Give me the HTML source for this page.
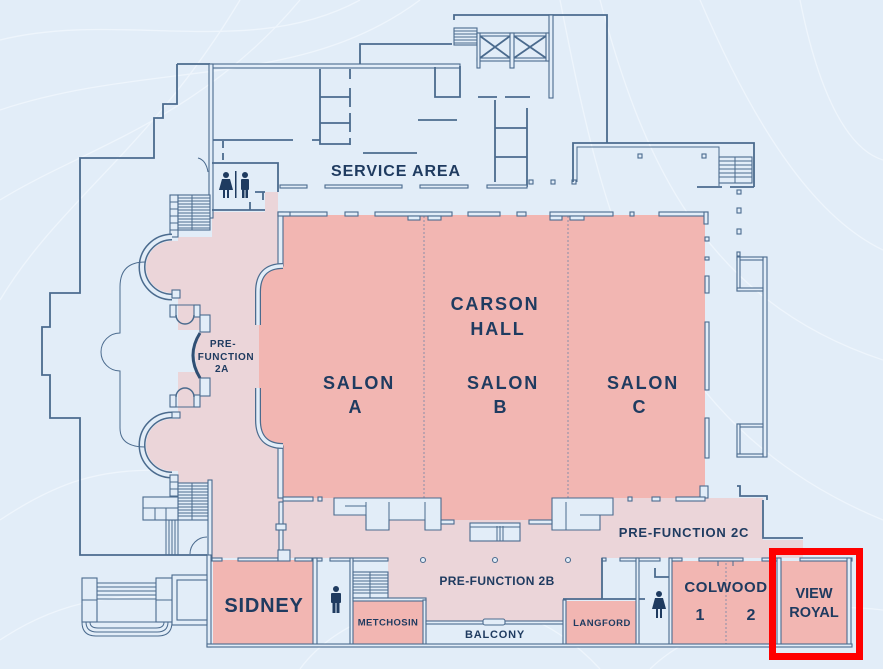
<!DOCTYPE html>
<html><head><meta charset="utf-8">
<style>
html,body{margin:0;padding:0;background:#e2edf8;}
svg{display:block}
text{font-family:"Liberation Sans",sans-serif;font-weight:bold;fill:#1f3b60;}
.w{fill:#e2edf8;stroke:#4b6b8e;stroke-width:1.1}
.l{fill:none;stroke:#4b6b8e;stroke-width:1.8}
.t{fill:none;stroke:#4b6b8e;stroke-width:1}
.ic{fill:#1f3b60}
</style></head><body>
<svg width="883" height="669" viewBox="0 0 883 669" xmlns="http://www.w3.org/2000/svg">
<rect width="883" height="669" fill="#e2edf8"/>
<g fill="none" stroke="#eef5fc" stroke-width="1.3">
<path d="M0,40 C120,10 250,60 360,0"/>
<path d="M0,110 C150,60 300,90 420,0"/>
<path d="M0,300 C60,200 150,150 240,0"/>
<path d="M0,200 C80,150 200,120 300,0"/>
<path d="M600,0 C640,150 700,300 883,360"/>
<path d="M700,0 C760,140 820,220 883,250"/>
<path d="M560,0 C600,200 640,420 883,520"/>
<path d="M800,0 C820,100 850,150 883,160"/>
<path d="M300,669 C350,600 500,560 600,669"/>
<path d="M0,520 C60,480 100,470 160,470"/>
<path d="M0,640 C60,600 120,590 200,600"/>
<path d="M650,669 C700,620 800,600 883,610"/>
</g>

<!-- light pink prefunction -->
<g fill="#ebd5d9">
<rect x="212" y="212" width="71" height="346"/>
<rect x="265" y="192" width="13" height="20"/>
<rect x="178" y="237" width="34" height="93"/>
<rect x="178" y="372" width="34" height="111"/>
<path d="M200,330 Q190,352 200,378 L212,378 L212,330 Z"/>
<path d="M172,241 A26,26 0 0 0 172,293 L180,293 L180,241 Z"/>
<path d="M172,419 A26,26 0 0 0 172,471 L180,471 L180,419 Z"/>
<rect x="283" y="498" width="480" height="60"/>
<rect x="763" y="540" width="40" height="18"/>
<rect x="388" y="558" width="214" height="42"/>
<rect x="423" y="600" width="142" height="23"/>
</g>

<!-- salon pink -->
<g fill="#f2b6b2">
<path d="M283,215 L705,215 L705,498 L552,498 L552,520 L441,520 L441,498 L283,498 L283,446 Q259,446 259,420 L259,292 Q259,266 283,266 Z"/>
<rect x="213" y="560" width="101" height="84"/>
<rect x="353" y="601" width="70" height="43"/>
<rect x="565" y="601" width="72" height="43"/>
<rect x="672" y="561" width="98" height="83"/>
<rect x="779" y="561" width="70" height="83"/>
</g>
<g fill="none" stroke="#8a8fa8" stroke-width="1" stroke-dasharray="2,2">
<path d="M424,216 L424,498"/>
<path d="M568,216 L568,498"/>
<path d="M726,563 L726,644"/>
</g>

<!-- outer building lines -->
<path class="l" stroke-width="2.2" d="M177,64 L177,104 L163,104 L163,118 L154,118 L154,158 L80,158 L80,293 L50,293 L50,327 L42,327 L42,375 L50,375 L50,418 L80,418 L80,555 L207,555"/>
<path class="t" d="M198,158 Q206,160 208,172"/>
<path class="l" d="M177,64 L210,64"/>
<rect class="w" x="210" y="64" width="250" height="4"/>
<path class="l" d="M360,64 L360,44 L452,44"/>
<rect class="w" x="209" y="64" width="4" height="154"/>
<path class="l" d="M435,67 L435,97 L460,97 L460,66"/>
<path class="l" d="M454,20 L454,15 L607,15 L607,143"/>
<rect class="w" x="549" y="15" width="4" height="83"/>
<rect class="w" x="454" y="28" width="23" height="17"/>
<path class="t" d="M454,31 H477 M454,34 H477 M454,37 H477 M454,40 H477 M454,43 H477"/>
<rect class="w" x="477" y="33" width="72" height="3"/>
<rect class="w" x="477" y="58" width="72" height="3"/>
<rect class="w" x="477" y="33" width="3" height="35"/>
<rect class="w" x="510" y="33" width="4" height="35"/>
<rect class="w" x="546" y="33" width="3" height="28"/>
<path class="l" d="M480,36 L510,58 M480,58 L510,36 M514,36 L546,58 M514,58 L546,36"/>

<!-- service interior -->
<path class="l" d="M213,140 L293,140 M312,140 L320,140"/>
<path class="l" d="M320,69 L320,144 L350,144 M320,97 L350,97 M320,123 L350,123"/>
<path class="l" d="M350,69 L350,79 M350,88 L350,107 M350,113 L350,132 M350,138 L350,145"/>
<path class="l" d="M363,153 L417,153"/>
<path class="l" d="M418,120 L457,120"/>
<path class="l" d="M478,97 L497,97 M505,97 L530,97"/>
<path class="l" d="M495,100 L495,182 M495,128 L527,128 M495,157 L527,157 M527,108 L527,187"/>
<path class="l" d="M223,141 L223,148 M223,153 L223,160"/>
<path class="l" d="M212,163 L278,163 L278,192 M255,192 L265,192 M212,210 L265,210 M250,202 L250,210 M263,192 L263,200"/>
<rect class="w" x="280" y="185" width="27" height="3"/>
<rect class="w" x="325" y="185" width="77" height="3"/>
<rect class="w" x="420" y="185" width="48" height="3"/>
<rect class="w" x="487" y="185" width="40" height="3"/>
<rect class="w" x="529" y="180" width="4" height="4"/>
<rect class="w" x="551" y="180" width="4" height="4"/>
<rect class="w" x="572" y="180" width="4" height="4"/>
<path class="l" d="M573,182 L573,143 L754,143 L754,187"/>
<path class="t" d="M577,182 L577,147 L719,147 L719,186"/>
<rect class="w" x="638" y="154" width="4" height="4"/>
<rect class="w" x="702" y="154" width="4" height="4"/>
<rect class="w" x="719" y="157" width="33" height="26"/>
<path class="t" d="M719,161 H752 M719,165 H752 M719,169 H752 M719,173 H752 M719,177 H752 M735,157 V183"/>
<path class="l" d="M697,187 L722,187 M730,187 L754,187"/>
<rect class="w" x="737" y="190" width="4" height="4"/>
<rect class="w" x="737" y="208" width="4" height="5"/>
<rect class="w" x="737" y="229" width="4" height="5"/>

<!-- restroom icons top -->
<circle class="ic" cx="226" cy="175" r="3"/>
<path class="ic" d="M222,179 L230,179 L233,190 L219,190 Z"/>
<rect class="ic" x="223" y="190" width="2" height="8"/>
<rect class="ic" x="227" y="190" width="2" height="8"/>
<rect class="ic" x="235" y="171" width="1.5" height="27"/>
<circle class="ic" cx="245" cy="175" r="3"/>
<rect class="ic" x="241" y="179" width="8" height="11" rx="1"/>
<rect class="ic" x="242" y="190" width="2.5" height="8"/>
<rect class="ic" x="245.5" y="190" width="2.5" height="8"/>

<!-- hall top wall row -->
<rect class="w" x="278" y="212" width="49" height="4"/>
<rect class="w" x="345" y="212" width="13" height="4"/>
<rect class="w" x="375" y="212" width="77" height="4"/>
<rect class="w" x="468" y="212" width="32" height="4"/>
<rect class="w" x="517" y="212" width="9" height="4"/>
<rect class="w" x="550" y="212" width="63" height="4"/>
<rect class="w" x="630" y="212" width="4" height="4"/>
<rect class="w" x="659" y="212" width="49" height="4"/>
<rect class="w" x="408" y="216" width="12" height="4"/>
<rect class="w" x="428" y="216" width="13" height="4"/>
<rect class="w" x="550" y="216" width="12" height="4"/>
<rect class="w" x="570" y="216" width="14" height="4"/>
<rect class="w" x="704" y="212" width="4" height="12"/>
<rect class="w" x="278" y="212" width="5" height="54"/>
<rect class="w" x="278" y="212" width="12" height="4"/>
<rect class="w" x="278" y="446" width="5" height="52"/>
<path d="M283,266 Q258,266 258,292 L258,325" fill="none" stroke="#4b6b8e" stroke-width="6"/>
<path d="M283,266 Q258,266 258,292 L258,325" fill="none" stroke="#e2edf8" stroke-width="3.5"/>
<path d="M258,388 L258,420 Q258,446 283,446" fill="none" stroke="#4b6b8e" stroke-width="6"/>
<path d="M258,388 L258,420 Q258,446 283,446" fill="none" stroke="#e2edf8" stroke-width="3.5"/>

<!-- right of salon C -->
<rect class="w" x="705" y="237" width="4" height="4"/>
<rect class="w" x="705" y="257" width="4" height="3"/>
<rect class="w" x="705" y="276" width="4" height="17"/>
<rect class="w" x="705" y="322" width="4" height="68"/>
<rect class="w" x="705" y="418" width="4" height="40"/>
<rect class="w" x="763" y="257" width="4" height="200"/>
<rect class="w" x="737" y="257" width="26" height="3"/>
<rect class="w" x="737" y="257" width="3" height="34"/>
<rect class="w" x="737" y="288" width="26" height="3"/>
<rect class="w" x="737" y="424" width="26" height="3"/>
<rect class="w" x="737" y="424" width="3" height="33"/>
<rect class="w" x="737" y="454" width="26" height="3"/>
<rect class="w" x="737" y="252" width="3" height="4"/>
<path class="l" d="M737,486 L740,486 L740,496 L767,496 L767,500"/>
<rect class="w" x="700" y="486" width="8" height="12"/>

<!-- 2A left details -->
<rect class="w" x="170" y="195" width="8" height="42"/>
<path class="t" d="M170,202 H178 M170,209 H178 M170,216 H178 M170,223 H178 M170,230 H178"/>
<rect class="w" x="178" y="195" width="32" height="35"/>
<path class="t" d="M178,198 H210 M178,201 H210 M178,204 H210 M178,207 H210 M178,210 H210 M178,213 H210 M178,216 H210 M178,219 H210 M178,222 H210 M178,225 H210 M178,228 H210 M192,195 V230"/>
<path d="M172,237 A30,30 0 0 0 172,297" fill="none" stroke="#4b6b8e" stroke-width="7"/>
<path d="M172,237 A30,30 0 0 0 172,297" fill="none" stroke="#e2edf8" stroke-width="4"/>
<path d="M172,415 A30,30 0 0 0 172,475" fill="none" stroke="#4b6b8e" stroke-width="7"/>
<path d="M172,415 A30,30 0 0 0 172,475" fill="none" stroke="#e2edf8" stroke-width="4"/>
<rect class="w" x="172" y="290" width="8" height="8"/>
<rect class="w" x="172" y="412" width="8" height="6"/>
<rect class="w" x="170" y="305" width="6" height="12"/>
<rect class="w" x="194" y="305" width="6" height="12"/>
<path class="t" d="M170,305 H200"/>
<path d="M176,315 A9,9 0 0 0 194,315" fill="none" stroke="#4b6b8e" stroke-width="1.5"/>
<rect class="w" x="170" y="395" width="6" height="12"/>
<rect class="w" x="194" y="395" width="6" height="12"/>
<path class="t" d="M170,407 H200"/>
<path d="M176,397 A9,9 0 0 1 194,397" fill="none" stroke="#4b6b8e" stroke-width="1.5"/>
<rect class="w" x="200" y="315" width="10" height="17"/>
<rect class="w" x="200" y="378" width="10" height="18"/>
<path d="M200,333 Q186,355 200,378" fill="none" stroke="#2f4f74" stroke-width="3"/>
<path class="t" stroke-width="1.3" d="M145,262 Q120,262 120,287 L120,333 A19,19 0 0 0 120,371 L120,428 Q120,447 145,447"/>
<rect class="w" x="170" y="475" width="8" height="45"/>
<path class="t" d="M170,482 H178 M170,489 H178 M170,496 H178 M170,503 H178 M170,510 H178"/>
<rect class="w" x="178" y="483" width="32" height="37"/>
<path class="t" d="M178,486 H210 M178,489 H210 M178,492 H210 M178,495 H210 M178,498 H210 M178,501 H210 M178,504 H210 M178,507 H210 M178,510 H210 M178,513 H210 M178,516 H210 M192,483 V520"/>
<rect class="w" x="143" y="497" width="35" height="23"/>
<path class="t" d="M143,508 H178 M155,508 V520 M166,508 V520"/>
<path class="t" d="M166,520 V555 M169,520 V555 M172,520 V555 M175,520 V555 M178,520 V555"/>
<rect class="w" x="208" y="480" width="4" height="78"/>
<path class="t" stroke-width="1.5" d="M190,554 A17,17 0 0 1 207,537"/>

<!-- bottom-left stair area -->
<rect class="w" x="207" y="555" width="4" height="92"/>
<rect class="w" x="172" y="575" width="35" height="50"/>
<rect class="w" x="177" y="580" width="30" height="40"/>
<rect class="w" x="82" y="578" width="15" height="44"/>
<rect class="w" x="156" y="578" width="16" height="44"/>
<path class="t" d="M97,583 H156 M97,587 H156 M97,591 H156 M97,595 H156 M97,599 H156 M82,600 H97 M156,600 H172"/>
<path class="t" d="M82,622 Q82,636 96,636 L158,636 Q172,636 172,622 M86,622 Q86,632 97,632 L157,632 Q168,632 168,622 M90,622 Q90,628 98,628 L156,628 Q164,628 164,622 M82,622 H172"/>

<!-- under salons -->
<rect class="w" x="283" y="497" width="30" height="4"/>
<rect class="w" x="318" y="497" width="4" height="4"/>
<path class="w" d="M334,498 L441,498 L441,530 L425,530 L425,520 L389,520 L389,530 L366,530 L366,515 L334,515 Z"/>
<path class="t" d="M366,502 V515 M389,502 V520 M425,502 V520 M345,506 H366"/>
<path class="w" d="M552,498 L613,498 L613,515 L600,515 L600,530 L552,530 Z"/>
<path class="t" d="M566,502 V530 M580,515 H600"/>
<rect class="w" x="628" y="497" width="4" height="4"/>
<rect class="w" x="652" y="497" width="8" height="4"/>
<rect class="w" x="676" y="497" width="29" height="4"/>
<rect class="w" x="441" y="520" width="13" height="4"/>
<rect class="w" x="529" y="520" width="23" height="4"/>
<rect class="w" x="470" y="523" width="50" height="18"/>
<path class="t" d="M497,526 V541 M500,526 V541 M503,526 V541 M470,527 H520"/>
<rect class="w" x="279" y="502" width="4" height="56"/>
<rect class="w" x="276" y="524" width="10" height="6"/>
<path class="l" d="M763,500 L763,538 L803,538"/>

<!-- prefunction bottom wall row -->
<rect class="w" x="212" y="558" width="10" height="3"/>
<rect class="w" x="238" y="558" width="40" height="3"/>
<rect class="w" x="278" y="550" width="12" height="11"/>
<rect class="w" x="295" y="558" width="17" height="3"/>
<rect class="w" x="315" y="558" width="7" height="3"/>
<rect class="w" x="330" y="558" width="58" height="3"/>
<rect class="w" x="602" y="558" width="4" height="3"/>
<rect class="w" x="620" y="558" width="40" height="3"/>
<rect class="w" x="670" y="558" width="12" height="3"/>
<rect class="w" x="699" y="558" width="44" height="3"/>
<rect class="w" x="762" y="558" width="15" height="3"/>
<rect class="w" x="800" y="558" width="52" height="3"/>
<circle cx="423" cy="560" r="2.5" class="w"/>
<circle cx="495" cy="560" r="2.5" class="w"/>
<circle cx="568" cy="560" r="2.5" class="w"/>

<!-- rooms walls -->
<rect class="w" x="313" y="558" width="4" height="88"/>
<rect class="w" x="350" y="558" width="3" height="88"/>
<rect class="w" x="353" y="572" width="35" height="26"/>
<path class="t" d="M353,575 H388 M353,578 H388 M353,581 H388 M353,584 H388 M353,587 H388 M353,590 H388 M353,593 H388 M370,572 V598"/>
<rect class="w" x="353" y="598" width="73" height="3"/>
<rect class="w" x="423" y="600" width="3" height="46"/>
<rect class="w" x="426" y="621" width="139" height="3"/>
<rect class="w" x="483" y="619" width="22" height="6" rx="2"/>
<rect class="w" x="563" y="600" width="3" height="46"/>
<path class="l" d="M563,599 L645,599 M602,558 L602,599"/>
<rect class="w" x="636" y="558" width="3" height="88"/>
<path class="l" d="M655,568 L655,577 L670,577"/>
<rect class="w" x="669" y="558" width="3" height="88"/>
<rect class="w" x="770" y="558" width="3" height="88"/>
<rect class="w" x="777" y="558" width="4" height="88"/>
<rect class="w" x="847" y="558" width="4" height="88"/>
<rect class="w" x="207" y="644" width="645" height="3"/>
<path class="t" d="M718,561 V566 M733,561 V566"/>

<!-- room icons -->
<circle class="ic" cx="336" cy="589" r="3"/>
<rect class="ic" x="331" y="593" width="10" height="10" rx="1"/>
<rect class="ic" x="332.5" y="603" width="3" height="10"/>
<rect class="ic" x="336.5" y="603" width="3" height="10"/>
<circle class="ic" cx="659" cy="594" r="3"/>
<path class="ic" d="M655,598 L663,598 L666,609 L652,609 Z"/>
<rect class="ic" x="656" y="609" width="2" height="9"/>
<rect class="ic" x="660" y="609" width="2" height="9"/>

<!-- labels -->
<text x="396" y="176" font-size="16" letter-spacing="0.9" text-anchor="middle">SERVICE AREA</text>
<text x="495" y="310" font-size="18" letter-spacing="1.8" text-anchor="middle">CARSON</text>
<text x="498" y="335" font-size="18" letter-spacing="1.8" text-anchor="middle">HALL</text>
<text x="359" y="389" font-size="18" letter-spacing="1.8" text-anchor="middle">SALON</text>
<text x="355" y="413" font-size="18" text-anchor="middle">A</text>
<text x="503" y="389" font-size="18" letter-spacing="1.8" text-anchor="middle">SALON</text>
<text x="500" y="413" font-size="18" text-anchor="middle">B</text>
<text x="643" y="389" font-size="18" letter-spacing="1.8" text-anchor="middle">SALON</text>
<text x="639" y="413" font-size="18" text-anchor="middle">C</text>
<text x="223" y="347" font-size="10" letter-spacing="0.6" text-anchor="middle">PRE-</text>
<text x="226" y="360" font-size="10" letter-spacing="0.6" text-anchor="middle">FUNCTION</text>
<text x="222" y="372" font-size="10" letter-spacing="0.6" text-anchor="middle">2A</text>
<text x="684" y="537" font-size="13" letter-spacing="0.8" text-anchor="middle">PRE-FUNCTION 2C</text>
<text x="497" y="585" font-size="12" letter-spacing="0.4" text-anchor="middle">PRE-FUNCTION 2B</text>
<text x="264" y="612" font-size="20" letter-spacing="0.8" text-anchor="middle">SIDNEY</text>
<text x="388" y="625.5" font-size="9.5" letter-spacing="0.4" text-anchor="middle">METCHOSIN</text>
<text x="495" y="638" font-size="11" letter-spacing="0.8" text-anchor="middle">BALCONY</text>
<text x="602" y="626" font-size="9.5" letter-spacing="0.5" text-anchor="middle">LANGFORD</text>
<text x="726" y="592" font-size="15" letter-spacing="0.6" text-anchor="middle">COLWOOD</text>
<text x="700" y="620" font-size="16" text-anchor="middle">1</text>
<text x="751" y="620" font-size="16" text-anchor="middle">2</text>
<text x="814" y="598" font-size="14.5" text-anchor="middle">VIEW</text>
<text x="814" y="617" font-size="14.5" text-anchor="middle">ROYAL</text>

<!-- highlight -->
<rect x="772.5" y="551.5" width="87" height="105" fill="none" stroke="#ff0000" stroke-width="7"/>
</svg>
</body></html>
